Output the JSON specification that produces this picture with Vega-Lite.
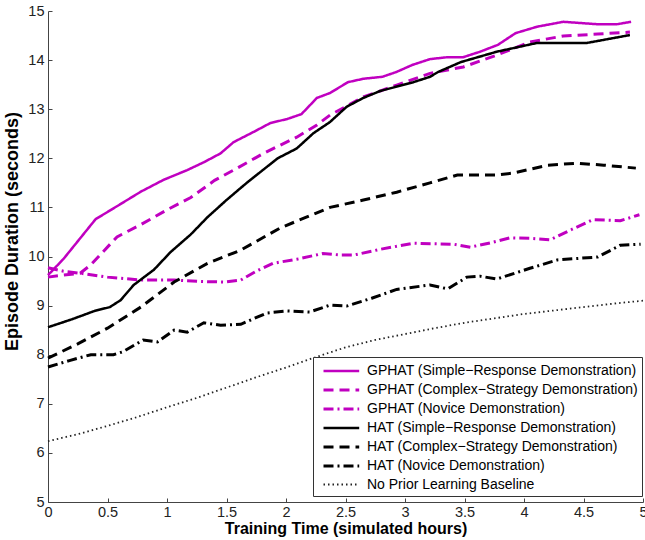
{
  "$schema": "https://vega.github.io/schema/vega-lite/v6.json",
  "width": 595,
  "height": 491,
  "autosize": {"type": "none"},
  "padding": {"left": 48, "top": 11, "right": 2, "bottom": 38},
  "background": "white",
  "config": {
    "view": {"stroke": null},
    "axis": {
      "grid": false,
      "domainColor": "#444",
      "tickColor": "#444",
      "tickSize": -4,
      "labelColor": "#222",
      "labelFont": "Liberation Sans",
      "labelFontSize": 14.5,
      "titleFont": "Liberation Sans",
      "titleFontSize": 16,
      "titleFontWeight": "bold",
      "titleColor": "#000"
    },
    "legend": {
      "labelFont": "Liberation Sans",
      "labelFontSize": 14,
      "labelColor": "#000",
      "labelLimit": 400
    }
  },
  "data": {
    "values": [
      {"series": "GPHAT (Simple\u2212Response Demonstration)", "x": 0, "y": 9.62},
      {"series": "GPHAT (Simple\u2212Response Demonstration)", "x": 0.13, "y": 9.95},
      {"series": "GPHAT (Simple\u2212Response Demonstration)", "x": 0.26, "y": 10.34},
      {"series": "GPHAT (Simple\u2212Response Demonstration)", "x": 0.4, "y": 10.76},
      {"series": "GPHAT (Simple\u2212Response Demonstration)", "x": 0.55, "y": 10.98},
      {"series": "GPHAT (Simple\u2212Response Demonstration)", "x": 0.78, "y": 11.32},
      {"series": "GPHAT (Simple\u2212Response Demonstration)", "x": 0.97, "y": 11.56},
      {"series": "GPHAT (Simple\u2212Response Demonstration)", "x": 1.17, "y": 11.76},
      {"series": "GPHAT (Simple\u2212Response Demonstration)", "x": 1.31, "y": 11.92},
      {"series": "GPHAT (Simple\u2212Response Demonstration)", "x": 1.45, "y": 12.1},
      {"series": "GPHAT (Simple\u2212Response Demonstration)", "x": 1.56, "y": 12.33},
      {"series": "GPHAT (Simple\u2212Response Demonstration)", "x": 1.73, "y": 12.54},
      {"series": "GPHAT (Simple\u2212Response Demonstration)", "x": 1.87, "y": 12.72},
      {"series": "GPHAT (Simple\u2212Response Demonstration)", "x": 2.01, "y": 12.8},
      {"series": "GPHAT (Simple\u2212Response Demonstration)", "x": 2.13, "y": 12.9},
      {"series": "GPHAT (Simple\u2212Response Demonstration)", "x": 2.26, "y": 13.23},
      {"series": "GPHAT (Simple\u2212Response Demonstration)", "x": 2.37, "y": 13.33},
      {"series": "GPHAT (Simple\u2212Response Demonstration)", "x": 2.52, "y": 13.55},
      {"series": "GPHAT (Simple\u2212Response Demonstration)", "x": 2.65, "y": 13.62},
      {"series": "GPHAT (Simple\u2212Response Demonstration)", "x": 2.81, "y": 13.66},
      {"series": "GPHAT (Simple\u2212Response Demonstration)", "x": 2.93, "y": 13.76},
      {"series": "GPHAT (Simple\u2212Response Demonstration)", "x": 3.06, "y": 13.9},
      {"series": "GPHAT (Simple\u2212Response Demonstration)", "x": 3.21, "y": 14.02},
      {"series": "GPHAT (Simple\u2212Response Demonstration)", "x": 3.36, "y": 14.06},
      {"series": "GPHAT (Simple\u2212Response Demonstration)", "x": 3.49, "y": 14.06},
      {"series": "GPHAT (Simple\u2212Response Demonstration)", "x": 3.63, "y": 14.17},
      {"series": "GPHAT (Simple\u2212Response Demonstration)", "x": 3.78, "y": 14.31},
      {"series": "GPHAT (Simple\u2212Response Demonstration)", "x": 3.93, "y": 14.55},
      {"series": "GPHAT (Simple\u2212Response Demonstration)", "x": 4.11, "y": 14.68},
      {"series": "GPHAT (Simple\u2212Response Demonstration)", "x": 4.33, "y": 14.78},
      {"series": "GPHAT (Simple\u2212Response Demonstration)", "x": 4.62, "y": 14.73},
      {"series": "GPHAT (Simple\u2212Response Demonstration)", "x": 4.78, "y": 14.73},
      {"series": "GPHAT (Simple\u2212Response Demonstration)", "x": 4.9, "y": 14.78},

      {"series": "GPHAT (Complex\u2212Strategy Demonstration)", "x": 0, "y": 9.58},
      {"series": "GPHAT (Complex\u2212Strategy Demonstration)", "x": 0.13, "y": 9.62},
      {"series": "GPHAT (Complex\u2212Strategy Demonstration)", "x": 0.27, "y": 9.66},
      {"series": "GPHAT (Complex\u2212Strategy Demonstration)", "x": 0.36, "y": 9.83},
      {"series": "GPHAT (Complex\u2212Strategy Demonstration)", "x": 0.58, "y": 10.4},
      {"series": "GPHAT (Complex\u2212Strategy Demonstration)", "x": 0.78, "y": 10.65},
      {"series": "GPHAT (Complex\u2212Strategy Demonstration)", "x": 1.0, "y": 10.95},
      {"series": "GPHAT (Complex\u2212Strategy Demonstration)", "x": 1.2, "y": 11.2},
      {"series": "GPHAT (Complex\u2212Strategy Demonstration)", "x": 1.4, "y": 11.55},
      {"series": "GPHAT (Complex\u2212Strategy Demonstration)", "x": 1.59, "y": 11.8},
      {"series": "GPHAT (Complex\u2212Strategy Demonstration)", "x": 1.81, "y": 12.1},
      {"series": "GPHAT (Complex\u2212Strategy Demonstration)", "x": 2.09, "y": 12.43},
      {"series": "GPHAT (Complex\u2212Strategy Demonstration)", "x": 2.26, "y": 12.68},
      {"series": "GPHAT (Complex\u2212Strategy Demonstration)", "x": 2.37, "y": 12.88},
      {"series": "GPHAT (Complex\u2212Strategy Demonstration)", "x": 2.65, "y": 13.25},
      {"series": "GPHAT (Complex\u2212Strategy Demonstration)", "x": 2.93, "y": 13.49},
      {"series": "GPHAT (Complex\u2212Strategy Demonstration)", "x": 3.21, "y": 13.73},
      {"series": "GPHAT (Complex\u2212Strategy Demonstration)", "x": 3.49, "y": 13.86},
      {"series": "GPHAT (Complex\u2212Strategy Demonstration)", "x": 3.77, "y": 14.1},
      {"series": "GPHAT (Complex\u2212Strategy Demonstration)", "x": 4.05, "y": 14.37},
      {"series": "GPHAT (Complex\u2212Strategy Demonstration)", "x": 4.33, "y": 14.49},
      {"series": "GPHAT (Complex\u2212Strategy Demonstration)", "x": 4.62, "y": 14.53},
      {"series": "GPHAT (Complex\u2212Strategy Demonstration)", "x": 4.89, "y": 14.57},

      {"series": "GPHAT (Novice Demonstration)", "x": 0, "y": 9.77},
      {"series": "GPHAT (Novice Demonstration)", "x": 0.13, "y": 9.7},
      {"series": "GPHAT (Novice Demonstration)", "x": 0.27, "y": 9.66},
      {"series": "GPHAT (Novice Demonstration)", "x": 0.5, "y": 9.58},
      {"series": "GPHAT (Novice Demonstration)", "x": 0.78, "y": 9.52},
      {"series": "GPHAT (Novice Demonstration)", "x": 1.06, "y": 9.52},
      {"series": "GPHAT (Novice Demonstration)", "x": 1.3, "y": 9.49},
      {"series": "GPHAT (Novice Demonstration)", "x": 1.48, "y": 9.48},
      {"series": "GPHAT (Novice Demonstration)", "x": 1.62, "y": 9.52},
      {"series": "GPHAT (Novice Demonstration)", "x": 1.75, "y": 9.7},
      {"series": "GPHAT (Novice Demonstration)", "x": 1.89, "y": 9.86},
      {"series": "GPHAT (Novice Demonstration)", "x": 2.1, "y": 9.95},
      {"series": "GPHAT (Novice Demonstration)", "x": 2.31, "y": 10.06},
      {"series": "GPHAT (Novice Demonstration)", "x": 2.46, "y": 10.03},
      {"series": "GPHAT (Novice Demonstration)", "x": 2.57, "y": 10.03},
      {"series": "GPHAT (Novice Demonstration)", "x": 2.8, "y": 10.15},
      {"series": "GPHAT (Novice Demonstration)", "x": 3.07, "y": 10.27},
      {"series": "GPHAT (Novice Demonstration)", "x": 3.41, "y": 10.25},
      {"series": "GPHAT (Novice Demonstration)", "x": 3.55, "y": 10.19},
      {"series": "GPHAT (Novice Demonstration)", "x": 3.72, "y": 10.28},
      {"series": "GPHAT (Novice Demonstration)", "x": 3.88, "y": 10.38},
      {"series": "GPHAT (Novice Demonstration)", "x": 4.05, "y": 10.37},
      {"series": "GPHAT (Novice Demonstration)", "x": 4.22, "y": 10.34},
      {"series": "GPHAT (Novice Demonstration)", "x": 4.4, "y": 10.55},
      {"series": "GPHAT (Novice Demonstration)", "x": 4.58, "y": 10.75},
      {"series": "GPHAT (Novice Demonstration)", "x": 4.81, "y": 10.73},
      {"series": "GPHAT (Novice Demonstration)", "x": 4.97, "y": 10.85},

      {"series": "HAT (Simple\u2212Response Demonstration)", "x": 0, "y": 8.56},
      {"series": "HAT (Simple\u2212Response Demonstration)", "x": 0.2, "y": 8.72},
      {"series": "HAT (Simple\u2212Response Demonstration)", "x": 0.39, "y": 8.89},
      {"series": "HAT (Simple\u2212Response Demonstration)", "x": 0.52, "y": 8.97},
      {"series": "HAT (Simple\u2212Response Demonstration)", "x": 0.61, "y": 9.11},
      {"series": "HAT (Simple\u2212Response Demonstration)", "x": 0.72, "y": 9.42},
      {"series": "HAT (Simple\u2212Response Demonstration)", "x": 0.89, "y": 9.73},
      {"series": "HAT (Simple\u2212Response Demonstration)", "x": 1.03, "y": 10.09},
      {"series": "HAT (Simple\u2212Response Demonstration)", "x": 1.2, "y": 10.45},
      {"series": "HAT (Simple\u2212Response Demonstration)", "x": 1.34, "y": 10.8},
      {"series": "HAT (Simple\u2212Response Demonstration)", "x": 1.5, "y": 11.15},
      {"series": "HAT (Simple\u2212Response Demonstration)", "x": 1.67, "y": 11.5},
      {"series": "HAT (Simple\u2212Response Demonstration)", "x": 1.8, "y": 11.75},
      {"series": "HAT (Simple\u2212Response Demonstration)", "x": 1.93, "y": 12.0},
      {"series": "HAT (Simple\u2212Response Demonstration)", "x": 2.09, "y": 12.2},
      {"series": "HAT (Simple\u2212Response Demonstration)", "x": 2.23, "y": 12.51},
      {"series": "HAT (Simple\u2212Response Demonstration)", "x": 2.37, "y": 12.74},
      {"series": "HAT (Simple\u2212Response Demonstration)", "x": 2.51, "y": 13.05},
      {"series": "HAT (Simple\u2212Response Demonstration)", "x": 2.65, "y": 13.23},
      {"series": "HAT (Simple\u2212Response Demonstration)", "x": 2.79, "y": 13.37},
      {"series": "HAT (Simple\u2212Response Demonstration)", "x": 3.07, "y": 13.55},
      {"series": "HAT (Simple\u2212Response Demonstration)", "x": 3.21, "y": 13.66},
      {"series": "HAT (Simple\u2212Response Demonstration)", "x": 3.28, "y": 13.76},
      {"series": "HAT (Simple\u2212Response Demonstration)", "x": 3.47, "y": 13.96},
      {"series": "HAT (Simple\u2212Response Demonstration)", "x": 3.77, "y": 14.17},
      {"series": "HAT (Simple\u2212Response Demonstration)", "x": 4.11, "y": 14.35},
      {"series": "HAT (Simple\u2212Response Demonstration)", "x": 4.53, "y": 14.35},
      {"series": "HAT (Simple\u2212Response Demonstration)", "x": 4.89, "y": 14.51},

      {"series": "HAT (Complex\u2212Strategy Demonstration)", "x": 0, "y": 7.93},
      {"series": "HAT (Complex\u2212Strategy Demonstration)", "x": 0.25, "y": 8.22},
      {"series": "HAT (Complex\u2212Strategy Demonstration)", "x": 0.5, "y": 8.54},
      {"series": "HAT (Complex\u2212Strategy Demonstration)", "x": 0.78, "y": 8.97},
      {"series": "HAT (Complex\u2212Strategy Demonstration)", "x": 1.06, "y": 9.48},
      {"series": "HAT (Complex\u2212Strategy Demonstration)", "x": 1.34, "y": 9.86},
      {"series": "HAT (Complex\u2212Strategy Demonstration)", "x": 1.62, "y": 10.13},
      {"series": "HAT (Complex\u2212Strategy Demonstration)", "x": 1.95, "y": 10.58},
      {"series": "HAT (Complex\u2212Strategy Demonstration)", "x": 2.15, "y": 10.78},
      {"series": "HAT (Complex\u2212Strategy Demonstration)", "x": 2.37, "y": 11.0},
      {"series": "HAT (Complex\u2212Strategy Demonstration)", "x": 2.65, "y": 11.15},
      {"series": "HAT (Complex\u2212Strategy Demonstration)", "x": 2.93, "y": 11.31},
      {"series": "HAT (Complex\u2212Strategy Demonstration)", "x": 3.21, "y": 11.5},
      {"series": "HAT (Complex\u2212Strategy Demonstration)", "x": 3.44, "y": 11.66},
      {"series": "HAT (Complex\u2212Strategy Demonstration)", "x": 3.77, "y": 11.66},
      {"series": "HAT (Complex\u2212Strategy Demonstration)", "x": 3.91, "y": 11.7},
      {"series": "HAT (Complex\u2212Strategy Demonstration)", "x": 4.2, "y": 11.86},
      {"series": "HAT (Complex\u2212Strategy Demonstration)", "x": 4.45, "y": 11.9},
      {"series": "HAT (Complex\u2212Strategy Demonstration)", "x": 4.67, "y": 11.86},
      {"series": "HAT (Complex\u2212Strategy Demonstration)", "x": 4.94, "y": 11.8},

      {"series": "HAT (Novice Demonstration)", "x": 0, "y": 7.75},
      {"series": "HAT (Novice Demonstration)", "x": 0.18, "y": 7.88},
      {"series": "HAT (Novice Demonstration)", "x": 0.36, "y": 8.0},
      {"series": "HAT (Novice Demonstration)", "x": 0.55, "y": 8.0},
      {"series": "HAT (Novice Demonstration)", "x": 0.63, "y": 8.06},
      {"series": "HAT (Novice Demonstration)", "x": 0.8, "y": 8.3},
      {"series": "HAT (Novice Demonstration)", "x": 0.92, "y": 8.26},
      {"series": "HAT (Novice Demonstration)", "x": 1.06, "y": 8.5},
      {"series": "HAT (Novice Demonstration)", "x": 1.17, "y": 8.46},
      {"series": "HAT (Novice Demonstration)", "x": 1.31, "y": 8.65},
      {"series": "HAT (Novice Demonstration)", "x": 1.45, "y": 8.6},
      {"series": "HAT (Novice Demonstration)", "x": 1.62, "y": 8.62},
      {"series": "HAT (Novice Demonstration)", "x": 1.84, "y": 8.85},
      {"series": "HAT (Novice Demonstration)", "x": 2.01, "y": 8.89},
      {"series": "HAT (Novice Demonstration)", "x": 2.2, "y": 8.87},
      {"series": "HAT (Novice Demonstration)", "x": 2.37, "y": 9.01},
      {"series": "HAT (Novice Demonstration)", "x": 2.51, "y": 8.99},
      {"series": "HAT (Novice Demonstration)", "x": 2.72, "y": 9.15},
      {"series": "HAT (Novice Demonstration)", "x": 2.93, "y": 9.33},
      {"series": "HAT (Novice Demonstration)", "x": 3.21, "y": 9.42},
      {"series": "HAT (Novice Demonstration)", "x": 3.36, "y": 9.34},
      {"series": "HAT (Novice Demonstration)", "x": 3.52, "y": 9.58},
      {"series": "HAT (Novice Demonstration)", "x": 3.63, "y": 9.6},
      {"series": "HAT (Novice Demonstration)", "x": 3.77, "y": 9.54},
      {"series": "HAT (Novice Demonstration)", "x": 4.05, "y": 9.76},
      {"series": "HAT (Novice Demonstration)", "x": 4.28, "y": 9.93},
      {"series": "HAT (Novice Demonstration)", "x": 4.62, "y": 9.99},
      {"series": "HAT (Novice Demonstration)", "x": 4.81, "y": 10.23},
      {"series": "HAT (Novice Demonstration)", "x": 4.98, "y": 10.25},

      {"series": "No Prior Learning Baseline", "x": 0, "y": 6.24},
      {"series": "No Prior Learning Baseline", "x": 0.25, "y": 6.38},
      {"series": "No Prior Learning Baseline", "x": 0.5, "y": 6.55},
      {"series": "No Prior Learning Baseline", "x": 0.75, "y": 6.73},
      {"series": "No Prior Learning Baseline", "x": 1.0, "y": 6.93},
      {"series": "No Prior Learning Baseline", "x": 1.25, "y": 7.12},
      {"series": "No Prior Learning Baseline", "x": 1.5, "y": 7.33},
      {"series": "No Prior Learning Baseline", "x": 1.75, "y": 7.54},
      {"series": "No Prior Learning Baseline", "x": 2.0, "y": 7.74},
      {"series": "No Prior Learning Baseline", "x": 2.25, "y": 7.95},
      {"series": "No Prior Learning Baseline", "x": 2.5, "y": 8.15},
      {"series": "No Prior Learning Baseline", "x": 2.75, "y": 8.3},
      {"series": "No Prior Learning Baseline", "x": 3.0, "y": 8.42},
      {"series": "No Prior Learning Baseline", "x": 3.25, "y": 8.54},
      {"series": "No Prior Learning Baseline", "x": 3.5, "y": 8.65},
      {"series": "No Prior Learning Baseline", "x": 3.75, "y": 8.74},
      {"series": "No Prior Learning Baseline", "x": 4.0, "y": 8.83},
      {"series": "No Prior Learning Baseline", "x": 4.25, "y": 8.9},
      {"series": "No Prior Learning Baseline", "x": 4.5, "y": 8.97},
      {"series": "No Prior Learning Baseline", "x": 4.75, "y": 9.04},
      {"series": "No Prior Learning Baseline", "x": 5.0, "y": 9.1}
    ]
  },
  "mark": {"type": "line", "interpolate": "linear"},
  "encoding": {
    "x": {
      "field": "x", "type": "quantitative",
      "scale": {"domain": [0, 5], "nice": false},
      "axis": {"values": [0, 0.5, 1, 1.5, 2, 2.5, 3, 3.5, 4, 4.5, 5], "format": "~g", "title": "Training Time (simulated hours)", "labelPadding": 7, "titlePadding": 2, "labelFlush": false}
    },
    "y": {
      "field": "y", "type": "quantitative",
      "scale": {"domain": [5, 15], "nice": false, "zero": false},
      "axis": {"values": [5, 6, 7, 8, 9, 10, 11, 12, 13, 14, 15], "title": "Episode Duration (seconds)", "labelPadding": 8, "titlePadding": 6, "titleFontSize": 18, "titleY": 220}
    },
    "color": {
      "field": "series", "type": "nominal",
      "scale": {
        "domain": [
          "GPHAT (Simple\u2212Response Demonstration)",
          "GPHAT (Complex\u2212Strategy Demonstration)",
          "GPHAT (Novice Demonstration)",
          "HAT (Simple\u2212Response Demonstration)",
          "HAT (Complex\u2212Strategy Demonstration)",
          "HAT (Novice Demonstration)",
          "No Prior Learning Baseline"
        ],
        "range": ["#c000c0", "#c000c0", "#c000c0", "#000000", "#000000", "#000000", "#222222"]
      },
      "legend": {
        "title": null,
        "orient": "none",
        "legendX": 265,
        "legendY": 346,
        "fillColor": "white",
        "strokeColor": "#333",
        "padding": 4,
        "rowPadding": 2,
        "symbolOffset": 5,
        "labelOffset": 25,
        "symbolType": "M-1,0H3.2",
        "symbolSize": 289,
        "symbolStrokeWidth": 2.5
      }
    },
    "strokeDash": {
      "field": "series", "type": "nominal",
      "scale": {
        "domain": [
          "GPHAT (Simple\u2212Response Demonstration)",
          "GPHAT (Complex\u2212Strategy Demonstration)",
          "GPHAT (Novice Demonstration)",
          "HAT (Simple\u2212Response Demonstration)",
          "HAT (Complex\u2212Strategy Demonstration)",
          "HAT (Novice Demonstration)",
          "No Prior Learning Baseline"
        ],
        "range": [[1, 0], [10, 6], [10, 4, 2, 4], [1, 0], [10, 6], [10, 4, 2, 4], [1.5, 3]]
      }
    },
    "strokeWidth": {
      "field": "series", "type": "nominal",
      "scale": {
        "type": "ordinal",
        "domain": [
          "GPHAT (Simple\u2212Response Demonstration)",
          "GPHAT (Complex\u2212Strategy Demonstration)",
          "GPHAT (Novice Demonstration)",
          "HAT (Simple\u2212Response Demonstration)",
          "HAT (Complex\u2212Strategy Demonstration)",
          "HAT (Novice Demonstration)",
          "No Prior Learning Baseline"
        ],
        "range": [2.5, 3, 3, 2.5, 3, 3, 1.8]
      },
      "legend": null
    }
  }
}
